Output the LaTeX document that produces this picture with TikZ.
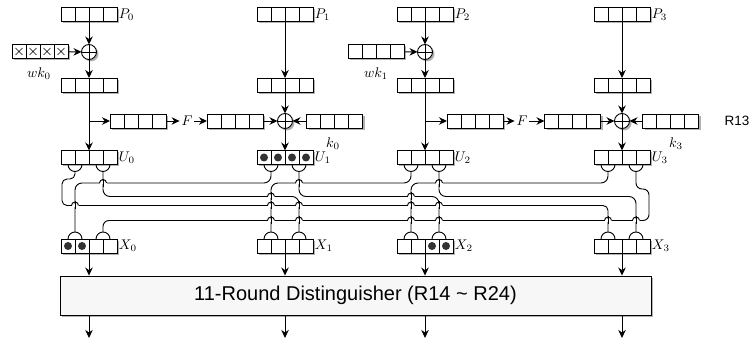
\documentclass[tikz,border=0pt]{standalone}
\usepackage{graphicx}
\usepackage{fontspec}
\newfontfamily\arialfont{Liberation Sans}
\usetikzlibrary{arrows.meta,shadows,calc}
\newcommand\wirehop[2]{%
  \fill[white] (#1-3.5,#2-1.5) rectangle (#1+3.5,#2+1.5);
  \draw (#1,#2-4) -- (#1,#2+4);
  \draw (#1-3.5,#2) arc[start angle=180,end angle=360,radius=3.5];}
\newcommand\mlab[1]{\scalebox{1.4}{$#1$}}
\begin{document}
\begin{tikzpicture}[x=1pt,y=-1pt,
  line width=0.9pt,
  >={Stealth[length=8pt,width=7.5pt]},
  shad/.style={drop shadow={shadow xshift=2pt,shadow yshift=-2pt,fill=black!30,opacity=1}},
  blk/.style={draw,fill=white,minimum width=56pt,minimum height=14pt,inner sep=0pt,outer sep=0pt,shad,
     path picture={\foreach \i in {14,28,42}{\draw ([xshift=\i pt]path picture bounding box.south west) -- ([xshift=\i pt]path picture bounding box.north west);}}},
  xorn/.style={circle,draw,fill=white,minimum size=15pt,inner sep=0pt,outer sep=0pt,shad,
     path picture={\draw (path picture bounding box.north) -- (path picture bounding box.south) (path picture bounding box.west) -- (path picture bounding box.east);}},
  lbl/.style={inner sep=1.5pt},
  wire/.style={rounded corners=7pt},
  dot/.style={fill=black!80},
]
\useasboundingbox (0,0) rectangle (750,339);

% ---- top rows
\node[blk] (P0) at (89,14.5) {};
\node[blk] (P1) at (285,14.5) {};
\node[blk] (P2) at (425,14.5) {};
\node[blk] (P3) at (622,14.5) {};
\node[lbl,anchor=west] (lp0) at (P0.east) {\mlab{P_0}};
\node[lbl,anchor=west] (lp1) at (P1.east) {\mlab{P_1}};
\node[lbl,anchor=west] (lp2) at (P2.east) {\mlab{P_2}};
\node[lbl,anchor=west] (lp3) at (P3.east) {\mlab{P_3}};

\node[blk] (WK0) at (40,51.5) {};
\node[blk] (WK1) at (376,51.5) {};
\node[xorn] (XA) at (89,52) {};
\node[xorn] (XC) at (425,52) {};
\node[lbl] (lwk0) at (39,73.5) {\mlab{wk_0}};
\node[lbl] (lwk1) at (376,73.5) {\mlab{wk_1}};
\foreach \o in {-21,-7,7,21}{
  \draw[line width=0.6pt] ($(WK0.center)+(\o-3.5,-3.5)$) -- ++(7,7) ($(WK0.center)+(\o-3.5,3.5)$) -- ++(7,-7);}

\node[blk] (B0) at (89,85) {};
\node[blk] (B1) at (285,85) {};
\node[blk] (B2) at (425,85) {};
\node[blk] (B3) at (622,85) {};

% ---- F row
\node[blk] (FA) at (138,121) {};
\node[lbl] (F0) at (187,121) {\mlab{F}};
\node[blk] (FB) at (235,121) {};
\node[xorn] (XB) at (285,121) {};
\node[blk] (K0) at (334.5,121) {};
\node[lbl] (lk0) at (333,144) {\mlab{k_0}};

\node[blk] (FC) at (475,121) {};
\node[lbl] (F1) at (522,121) {\mlab{F}};
\node[blk] (FD) at (572.5,121) {};
\node[xorn] (XD) at (622,121) {};
\node[blk] (K3) at (670.5,121) {};
\node[lbl] (lk3) at (676,144) {\mlab{k_3}};
\node[font=\arialfont\fontsize{13.5}{15}\selectfont] (r13) at (737,121) {R13};

% ---- U row
\node[blk] (U0) at (89,157.5) {};
\node[blk] (U1) at (285,157.5) {};
\node[blk] (U2) at (425,157.5) {};
\node[blk] (U3) at (622,157.5) {};
\node[lbl,anchor=west] (lu0) at (U0.east) {\mlab{U_0}};
\node[lbl,anchor=west] (lu1) at (U1.east) {\mlab{U_1}};
\node[lbl,anchor=west] (lu2) at (U2.east) {\mlab{U_2}};
\node[lbl,anchor=west] (lu3) at (U3.east) {\mlab{U_3}};
\foreach \o in {-21,-7,7,21}{\fill[dot] ($(U1.center)+(\o,0)$) circle[radius=4];}

% ---- X row
\node[blk] (X0) at (89,246) {};
\node[blk] (X1) at (285,246) {};
\node[blk] (X2) at (425,246) {};
\node[blk] (X3) at (622,246) {};
\node[lbl,anchor=west] (lx0) at (X0.east) {\mlab{X_0}};
\node[lbl,anchor=west] (lx1) at (X1.east) {\mlab{X_1}};
\node[lbl,anchor=west] (lx2) at (X2.east) {\mlab{X_2}};
\node[lbl,anchor=west] (lx3) at (X3.east) {\mlab{X_3}};
\foreach \o in {-21,-7}{\fill[dot] ($(X0.center)+(\o,0)$) circle[radius=4];}
\foreach \o in {7,21}{\fill[dot] ($(X2.center)+(\o,0)$) circle[radius=4];}

% ---- distinguisher
\node[draw,fill=black!3,minimum width=591pt,minimum height=39pt,inner sep=0pt,shad,
  font=\arialfont\fontsize{20}{22}\selectfont] (D) at (355.5,295.5) {11-Round Distinguisher (R14 \textasciitilde{} R24)};

% ---- arrows, top
\draw[->] (P0) -- (XA);
\draw[->] (WK0) -- (XA);
\draw[->] (XA) -- (B0);
\draw[->] (P1) -- (B1);
\draw[->] (P2) -- (XC);
\draw[->] (WK1) -- (XC);
\draw[->] (XC) -- (B2);
\draw[->] (P3) -- (B3);

\draw[->] (B0) -- (U0);
\coordinate (br0) at (B0 |- FA);
\draw[->] (br0) -- (FA);
\draw[->] (FA) -- (F0);
\draw[->] (F0) -- (FB);
\draw[->] (FB) -- (XB);
\draw[->] (K0) -- (XB);
\draw[->] (B1) -- (XB);
\draw[->] (XB) -- (U1);

\draw[->] (B2) -- (U2);
\coordinate (br2) at (B2 |- FC);
\draw[->] (br2) -- (FC);
\draw[->] (FC) -- (F1);
\draw[->] (F1) -- (FD);
\draw[->] (FD) -- (XD);
\draw[->] (K3) -- (XD);
\draw[->] (B3) -- (XD);
\draw[->] (XD) -- (U3);

% ---- cups and caps
\foreach \n in {U0,U1,U2,U3}{\foreach \s in {-14,14}{
  \draw ($(\n.south)+(\s-7,0)$) arc[start angle=180,end angle=0,radius=7];}}
\foreach \n in {X0,X1,X2,X3}{\foreach \s in {-14,14}{
  \draw ($(\n.north)+(\s-7,0)$) arc[start angle=180,end angle=360,radius=7];}}
\foreach \n in {0,1,2,3}{
  \coordinate (u\n l) at ($(U\n.south)+(-14,7)$);
  \coordinate (u\n r) at ($(U\n.south)+(14,7)$);
  \coordinate (x\n l) at ($(X\n.north)+(-14,-7)$);
  \coordinate (x\n r) at ($(X\n.north)+(14,-7)$);}

% ---- wiring
\draw[wire] (u1l) -- (271,183) -- (75,183) -- (x0l);
\draw[wire] (u2l) -- (411,183) -- (271,183) -- (x1l);
\draw[wire] (u3l) -- (608,183) -- (411,183) -- (x2l);
\draw[wire] (u0r) -- (103,196.5) -- (299,196.5) -- (x1r);
\draw[wire] (u1r) -- (299,196.5) -- (439,196.5) -- (x2r);
\draw[wire] (u2r) -- (439,196.5) -- (636,196.5) -- (x3r);
\draw[rounded corners=5pt] (u0l) -- (75,179) -- (62,179) -- (62,205.5) -- (608,205.5) -- (x3l);
\draw[rounded corners=6pt] (u3r) -- (636,189) -- (649,189) -- (649,220.5) -- (103,220.5) -- (x0r);

% ---- hops
\wirehop{103}{183}
\wirehop{299}{183}
\wirehop{439}{183}
\wirehop{271}{196.5}
\wirehop{411}{196.5}
\foreach \x in {75,271,299,411,439}{\wirehop{\x}{205.5}}
\foreach \x in {271,299,411,439,608,636}{\wirehop{\x}{220.5}}

% ---- into and out of the distinguisher
\foreach \n in {0,1,2,3}{
  \draw[->] (X\n) -- (X\n |- D.north);
  \coordinate (o\n) at ($(X\n |- D.south)+(0,22.5)$);
  \draw[->] (X\n |- D.south) -- (o\n);}
\end{tikzpicture}
\end{document}
